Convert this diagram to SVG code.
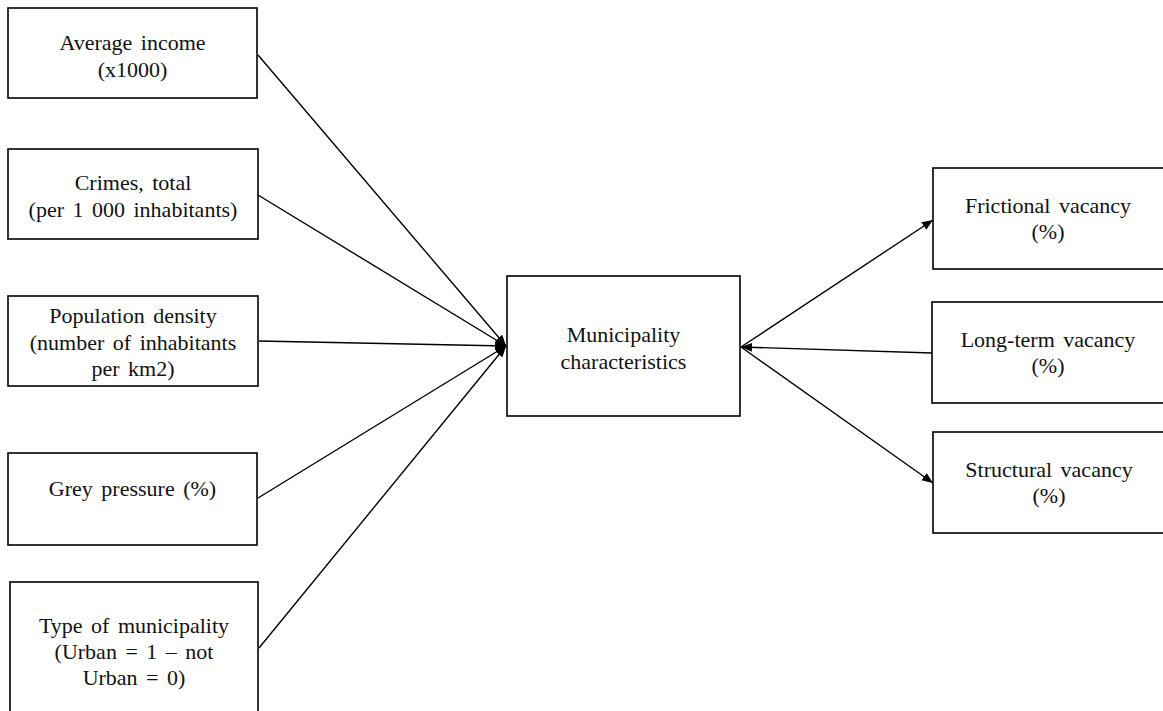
<svg xmlns="http://www.w3.org/2000/svg" width="1163" height="711" viewBox="0 0 1163 711">
<defs>
<style>
.box{fill:#fff;stroke:#000;stroke-width:1.6}
.t{font-family:"Liberation Serif","Times New Roman",serif;font-size:22px;word-spacing:3px;fill:#111;text-anchor:middle}
.c{stroke:#000;stroke-width:1.4;fill:none}
</style>
<marker id="ah" markerWidth="12" markerHeight="10" refX="11" refY="4.5" orient="auto" markerUnits="userSpaceOnUse">
<path d="M0,0 L11,4.5 L0,9 z" fill="#000"/>
</marker>
</defs>
<rect width="1163" height="711" fill="#fff"/>
<g id="connectors">
<line class="c" x1="258" y1="55" x2="506" y2="346" marker-end="url(#ah)"/>
<line class="c" x1="258" y1="195" x2="506" y2="346" marker-end="url(#ah)"/>
<line class="c" x1="259" y1="341" x2="506" y2="346" marker-end="url(#ah)"/>
<line class="c" x1="258" y1="498" x2="506" y2="346" marker-end="url(#ah)"/>
<line class="c" x1="259" y1="648" x2="506" y2="346" marker-end="url(#ah)"/>
<line class="c" x1="932" y1="353" x2="741" y2="347" marker-end="url(#ah)"/>
<line class="c" x1="741" y1="347" x2="933" y2="220" marker-end="url(#ah)"/>
<line class="c" x1="741" y1="347" x2="933" y2="483" marker-end="url(#ah)"/>
</g>
<g id="n-income">
<rect class="box" x="8" y="8" width="249" height="90"/>
<text class="t" x="132.5" y="50">Average income</text>
<text class="t" x="132.5" y="77">(x1000)</text>
</g>
<g id="n-crimes">
<rect class="box" x="8" y="149" width="250" height="90"/>
<text class="t" x="133" y="190">Crimes, total</text>
<text class="t" x="133" y="217">(per 1 000 inhabitants)</text>
</g>
<g id="n-density">
<rect class="box" x="8" y="296" width="250" height="90"/>
<text class="t" x="133" y="323">Population density</text>
<text class="t" x="133" y="349.5">(number of inhabitants</text>
<text class="t" x="133" y="376">per km2)</text>
</g>
<g id="n-grey">
<rect class="box" x="8" y="453" width="249" height="92"/>
<text class="t" x="132.5" y="496">Grey pressure (%)</text>
</g>
<g id="n-type">
<rect class="box" x="10" y="582" width="248" height="140"/>
<text class="t" x="134" y="633">Type of municipality</text>
<text class="t" x="134" y="659">(Urban = 1  – not</text>
<text class="t" x="134" y="685">Urban = 0)</text>
</g>
<g id="n-municipality">
<rect class="box" x="507" y="276" width="233" height="140"/>
<text class="t" x="623.5" y="342">Municipality</text>
<text class="t" x="623.5" y="369">characteristics</text>
</g>
<g id="n-frictional">
<rect class="box" x="933" y="168" width="240" height="101"/>
<text class="t" x="1048" y="213">Frictional vacancy</text>
<text class="t" x="1048" y="239">(%)</text>
</g>
<g id="n-longterm">
<rect class="box" x="932" y="302" width="240" height="101"/>
<text class="t" x="1048" y="347">Long-term vacancy</text>
<text class="t" x="1048" y="373">(%)</text>
</g>
<g id="n-structural">
<rect class="box" x="933" y="432" width="240" height="101"/>
<text class="t" x="1049" y="477">Structural vacancy</text>
<text class="t" x="1049" y="503">(%)</text>
</g>
</svg>
